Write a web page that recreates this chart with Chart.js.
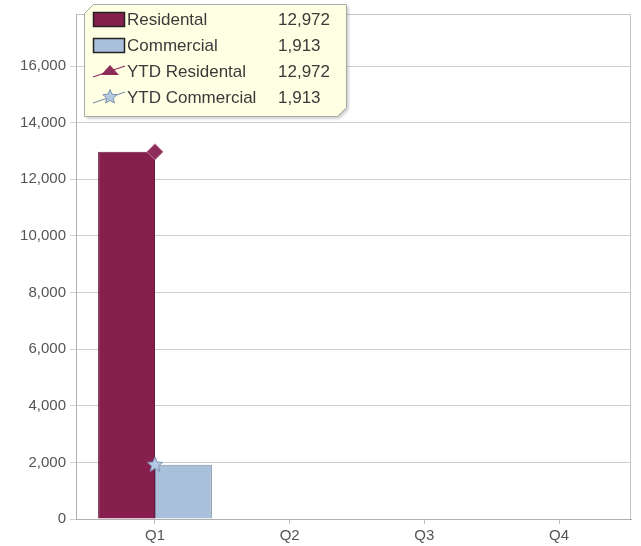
<!DOCTYPE html>
<html>
<head>
<meta charset="utf-8">
<script src="https://cdn.jsdelivr.net/npm/chart.js@4.4.1/dist/chart.umd.min.js"></script>
<style>
  html, body { margin: 0; padding: 0; background: #ffffff; }
  #wrap { position: relative; width: 641px; height: 546px; }
</style>
</head>
<body>
<div id="wrap"><canvas id="c" width="641" height="546"></canvas></div>
<script>
// ---- data ----
const categories = ['Q1', 'Q2', 'Q3', 'Q4'];
const residential = [12972, null, null, null];
const commercial = [1913, null, null, null];
const ytdResidential = [12972, null, null, null];
const ytdCommercial = [1913, null, null, null];
const yTickValues = [0, 2000, 4000, 6000, 8000, 10000, 12000, 14000, 16000];
const seriesNames = ['Residental', 'Commercial', 'YTD Residental', 'YTD Commercial'];

// ---- styles ----
const RES_FILL = '#861f4e', RES_EDGE = '#6a1a3e';
const COM_FILL = '#a9c0db', COM_EDGE = '#7f8fa8';
const YTDR_FILL = '#8e2c5a', YTDR_EDGE = '#b9779b';
const YTDC_FILL = '#b4cae4', YTDC_EDGE = '#7f93ad';
const FONT = "'Liberation Sans', Arial, sans-serif";

function toXY(arr) { return arr.map((v, i) => ({ x: i, y: v })); }

function starPath(ctx, cx, cy, r, ri) {
  ctx.beginPath();
  for (let k = 0; k < 10; k++) {
    const rr = k % 2 === 0 ? r : ri;
    const a = -Math.PI / 2 + k * Math.PI / 5;
    const px = cx + rr * Math.cos(a), py = cy + rr * Math.sin(a);
    if (k === 0) ctx.moveTo(px, py); else ctx.lineTo(px, py);
  }
  ctx.closePath();
}
function makeStar(r) {
  const c = document.createElement('canvas');
  const s = Math.ceil(2 * r + 4);
  c.width = s; c.height = s;
  const g = c.getContext('2d');
  starPath(g, s / 2, s / 2, r, r * 0.45);
  g.fillStyle = YTDC_FILL; g.fill();
  g.lineWidth = 1; g.strokeStyle = YTDC_EDGE; g.stroke();
  return c;
}
const starImg = makeStar(8);

function lastVal(arr) { let v = null; arr.forEach(x => { if (x !== null) v = x; }); return v; }

const borderPlugin = {
  id: 'plotBorder',
  beforeDatasetsDraw(chart) {
    const a = chart.chartArea, ctx = chart.ctx;
    ctx.save();
    ctx.strokeStyle = '#c4c4c4'; ctx.lineWidth = 1;
    ctx.beginPath();
    ctx.moveTo(a.left, a.top + 0.5); ctx.lineTo(a.right - 0.5, a.top + 0.5);
    ctx.lineTo(a.right - 0.5, a.bottom);
    ctx.stroke();
    ctx.restore();
  }
};

const legendPlugin = {
  id: 'boxLegend',
  afterDraw(chart) {
    const ctx = chart.ctx;
    const L = 84.5, T = 4.5, R = 346.5, B = 116.5, c = 9;
    ctx.save();
    ctx.beginPath();
    ctx.moveTo(L + c, T); ctx.lineTo(R, T); ctx.lineTo(R, B - c);
    ctx.lineTo(R - c, B); ctx.lineTo(L, B); ctx.lineTo(L, T + c); ctx.closePath();
    ctx.shadowColor = 'rgba(0,0,0,0.22)'; ctx.shadowBlur = 3; ctx.shadowOffsetX = 2; ctx.shadowOffsetY = 2;
    ctx.fillStyle = '#ffffe3'; ctx.fill();
    ctx.shadowColor = 'transparent';
    ctx.strokeStyle = '#a8a8a8'; ctx.lineWidth = 1; ctx.stroke();

    const values = [lastVal(residential), lastVal(commercial), lastVal(ytdResidential), lastVal(ytdCommercial)];
    const rows = [20, 46, 72, 98];
    ctx.font = '17px ' + FONT;
    ctx.textBaseline = 'middle';
    rows.forEach((y, i) => {
      if (i === 0 || i === 1) {
        ctx.fillStyle = i === 0 ? RES_FILL : COM_FILL;
        ctx.fillRect(93.5, y - 7.5, 31, 14);
        ctx.strokeStyle = '#222'; ctx.lineWidth = 1.5;
        ctx.strokeRect(93.5, y - 7.5, 31, 14);
      } else if (i === 2) {
        ctx.strokeStyle = YTDR_FILL; ctx.lineWidth = 1.2;
        ctx.beginPath(); ctx.moveTo(93, y + 5); ctx.lineTo(125, y - 6); ctx.stroke();
        ctx.beginPath(); ctx.moveTo(110, y - 7); ctx.lineTo(119, y + 3); ctx.lineTo(101, y + 3); ctx.closePath();
        ctx.fillStyle = YTDR_FILL; ctx.fill();
      } else {
        ctx.strokeStyle = '#7f93ad'; ctx.lineWidth = 1.2;
        ctx.beginPath(); ctx.moveTo(93, y + 5); ctx.lineTo(125, y - 6); ctx.stroke();
        starPath(ctx, 110, y - 1, 7.5, 3.4);
        ctx.fillStyle = YTDC_FILL; ctx.fill();
        ctx.strokeStyle = YTDC_EDGE; ctx.lineWidth = 1; ctx.stroke();
      }
      ctx.fillStyle = '#3a3a3a';
      ctx.textAlign = 'left';
      ctx.fillText(seriesNames[i], 127, y);
      ctx.fillText(values[i].toLocaleString('en-US'), 278, y);
    });
    ctx.restore();
  }
};

new Chart(document.getElementById('c'), {
  type: 'bar',
  data: {
    datasets: [
      { type: 'line', label: seriesNames[2], data: toXY(ytdResidential), order: 0,
        borderColor: YTDR_FILL, borderWidth: 1, backgroundColor: YTDR_FILL,
        pointStyle: 'rectRot', pointRadius: 8, pointBackgroundColor: YTDR_FILL,
        pointBorderColor: YTDR_EDGE, pointBorderWidth: 1 },
      { type: 'line', label: seriesNames[3], data: toXY(ytdCommercial), order: 0,
        borderColor: YTDC_EDGE, borderWidth: 1, backgroundColor: YTDC_FILL,
        pointStyle: starImg, pointRadius: 8 },
      { label: seriesNames[0], data: toXY(residential), order: 1,
        backgroundColor: RES_FILL, borderColor: RES_EDGE, borderWidth: 1,
        categoryPercentage: 0.845, barPercentage: 1 },
      { label: seriesNames[1], data: toXY(commercial), order: 1,
        backgroundColor: COM_FILL, borderColor: COM_EDGE, borderWidth: 1,
        categoryPercentage: 0.845, barPercentage: 1 }
    ]
  },
  options: {
    responsive: false,
    animation: false,
    layout: { padding: { top: 14, right: 10, left: 0, bottom: 0 } },
    plugins: { legend: { display: false }, tooltip: { enabled: false } },
    scales: {
      x: {
        type: 'linear', min: -0.5866, max: 3.5346, offset: false,
        afterBuildTicks: s => { s.ticks = categories.map((c, i) => ({ value: i })); },
        afterFit: s => { s.height = 27; },
        ticks: { callback: v => categories[v], autoSkip: false, maxRotation: 0,
                 padding: 3, color: '#555', font: { family: FONT, size: 15 } },
        grid: { offset: false, drawOnChartArea: false, drawTicks: true, tickLength: 5, color: '#bdbdbd' },
        border: { color: '#b0b0b0' }
      },
      y: {
        min: 0, max: 17840,
        afterBuildTicks: s => { s.ticks = yTickValues.map(v => ({ value: v })); },
        afterFit: s => { s.width = 76; },
        ticks: { callback: v => v.toLocaleString('en-US'), padding: 4, color: '#555',
                 font: { family: FONT, size: 15 } },
        grid: { color: '#cfcfcf', tickLength: 6, drawTicks: true },
        border: { color: '#b0b0b0' }
      }
    }
  },
  plugins: [borderPlugin, legendPlugin]
});
</script>
</body>
</html>
